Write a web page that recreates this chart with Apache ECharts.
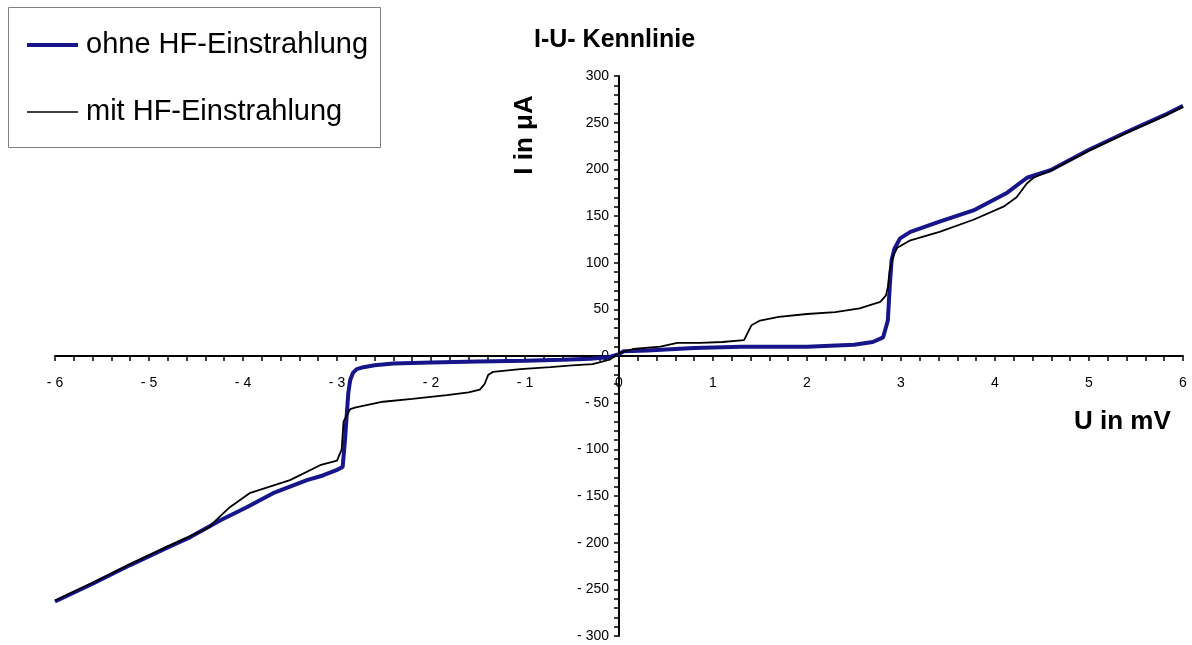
<!DOCTYPE html>
<html>
<head>
<meta charset="utf-8">
<script src="https://cdn.jsdelivr.net/npm/echarts@6/dist/echarts.min.js"></script>
<style>
html,body{margin:0;padding:0;background:#fff;}
#c{width:1192px;height:645px;}
</style>
</head>
<body>
<div id="c"></div>
<script>
// ohne HF-Einstrahlung (U in mV, I in µA)
var blueU = [-6.0,-5.6,-5.2,-4.8,-4.56,-4.24,-3.96,-3.68,-3.32,-3.15,-3.0,-2.94,-2.915,-2.895,-2.88,-2.86,-2.83,-2.79,-2.72,-2.6,-2.4,-2.0,-1.5,-1.0,-0.6,-0.3,-0.1,0.0,0.05,0.3,0.8,1.3,2.0,2.5,2.7,2.81,2.86,2.88,2.90,2.93,2.99,3.1,3.41,3.77,4.13,4.34,4.59,5.0,5.4,5.8,6.0];
var blueI = [-263,-244,-224,-205,-194,-176,-162,-147,-133,-128,-122,-119,-90,-61,-40,-26,-18,-14,-12,-10,-8,-7,-6,-5,-4,-3,-1,2,5,6,8.5,10,10,12,15,20,38,74,103,115,126,133,144,156,175,191,199,221,240,258,268];
// mit HF-Einstrahlung
var blackU = [-6.0,-5.6,-5.2,-4.8,-4.56,-4.35,-4.32,-4.14,-3.93,-3.5,-3.18,-3.0,-2.99,-2.95,-2.93,-2.86,-2.8,-2.51,-2.2,-1.83,-1.6,-1.48,-1.43,-1.39,-1.34,-1.05,-0.73,-0.5,-0.28,-0.1,0.0,0.15,0.44,0.62,0.86,1.1,1.33,1.37,1.41,1.5,1.7,2.0,2.3,2.56,2.78,2.84,2.86,2.88,2.92,2.96,3.1,3.41,3.77,4.09,4.23,4.34,4.41,4.6,5.0,5.4,5.8,6.0];
var blackI = [-262,-243,-223,-204,-193,-183,-179,-162,-147,-133,-117,-112,-111,-100,-70,-57,-55,-49,-46,-42,-39,-36,-30,-20,-17,-14,-12,-10,-8.6,-4,3,7.5,10,14,14,15,17,25,33,38,42,45,47,51,58,65,74,92,108,116,124,133,146,160,170,185,191,199,220,239,257,267];

var titleText = 'I-U- Kennlinie';
var xName = 'U in mV';
var yName = 'I in \u03bcA';
var names = ['ohne HF-Einstrahlung', 'mit HF-Einstrahlung'];

function pairs(u, i) { return u.map(function (v, k) { return [v, i[k]]; }); }
function fmt(v) { return v < 0 ? '- ' + Math.abs(v) : String(v); }

var FONT = '"Liberation Sans", Arial, Helvetica, sans-serif';
var GL = 55, GR = 9, GT = 76, GB = 9, W = 1192, H = 645;
var gw = W - GL - GR, gh = H - GT - GB;
// place axes through the origin (x from -6..6, y from -300..300)
var yOffset = -gw / 2;   // shifts the left axis to U = 0
var xOffset = -gh / 2;   // shifts the bottom axis to I = 0

var chart = echarts.init(document.getElementById('c'), null, {renderer: 'canvas'});
chart.setOption({
  animation: false,
  backgroundColor: '#ffffff',
  title: {
    text: titleText, left: 529, top: 23,
    textStyle: {fontFamily: FONT, fontSize: 25, fontWeight: 'bold', color: '#000'}
  },
  legend: {
    orient: 'vertical', left: 27, top: 30, padding: 0,
    itemWidth: 51, itemHeight: 14, itemGap: 37,
    data: [
      {name: names[0], icon: 'path://M0,0H51V4H0Z'},
      {name: names[1], icon: 'path://M0,0H51V1.6H0Z'}
    ],
    textStyle: {fontFamily: FONT, fontSize: 29, color: '#000', lineHeight: 30, padding: [0, 0, 0, 3]}
  },
  graphic: [
    {type: 'rect', shape: {x: 8.5, y: 7.5, width: 372, height: 140},
     style: {fill: 'none', stroke: '#808080', lineWidth: 1}, z: 0},
    {type: 'text', x: 525, y: 135, rotation: Math.PI / 2,
     style: {text: yName, font: 'bold 26px ' + FONT, fill: '#000', textAlign: 'center', textVerticalAlign: 'middle'}},
    {type: 'text', x: 1074, y: 422,
     style: {text: xName, font: 'bold 26px ' + FONT, fill: '#000', textAlign: 'left', textVerticalAlign: 'middle'}}
  ],
  grid: {left: GL, right: GR, top: GT, bottom: GB, outerBoundsMode: 'none', containLabel: false},
  xAxis: {
    type: 'value', min: -6, max: 6, interval: 1, position: 'bottom', offset: xOffset,
    axisLine: {onZero: false, lineStyle: {color: '#000', width: 2}},
    axisTick: {show: true, length: 5, lineStyle: {color: '#000', width: 1.5}},
    minorTick: {show: true, splitNumber: 5, length: 5, lineStyle: {color: '#000', width: 1.5}},
    splitLine: {show: false},
    axisLabel: {margin: 20, fontFamily: FONT, fontSize: 14, color: '#000', formatter: fmt}
  },
  yAxis: {
    type: 'value', min: -300, max: 300, interval: 50, position: 'left', offset: yOffset,
    axisLine: {onZero: false, lineStyle: {color: '#000', width: 2}},
    axisTick: {show: true, length: 5, lineStyle: {color: '#000', width: 1.5}},
    minorTick: {show: true, splitNumber: 5, length: 5, lineStyle: {color: '#000', width: 1.5}},
    splitLine: {show: false},
    axisLabel: {margin: 10, fontFamily: FONT, fontSize: 14, color: '#000', formatter: fmt}
  },
  series: [
    {name: names[0], type: 'line', symbol: 'none', data: pairs(blueU, blueI),
     lineStyle: {color: '#16168a', width: 4}, itemStyle: {color: '#16168a'}, z: 2},
    {name: names[1], type: 'line', symbol: 'none', data: pairs(blackU, blackI),
     lineStyle: {color: '#000000', width: 1.8}, itemStyle: {color: '#000000'}, z: 3}
  ]
});
</script>
</body>
</html>
